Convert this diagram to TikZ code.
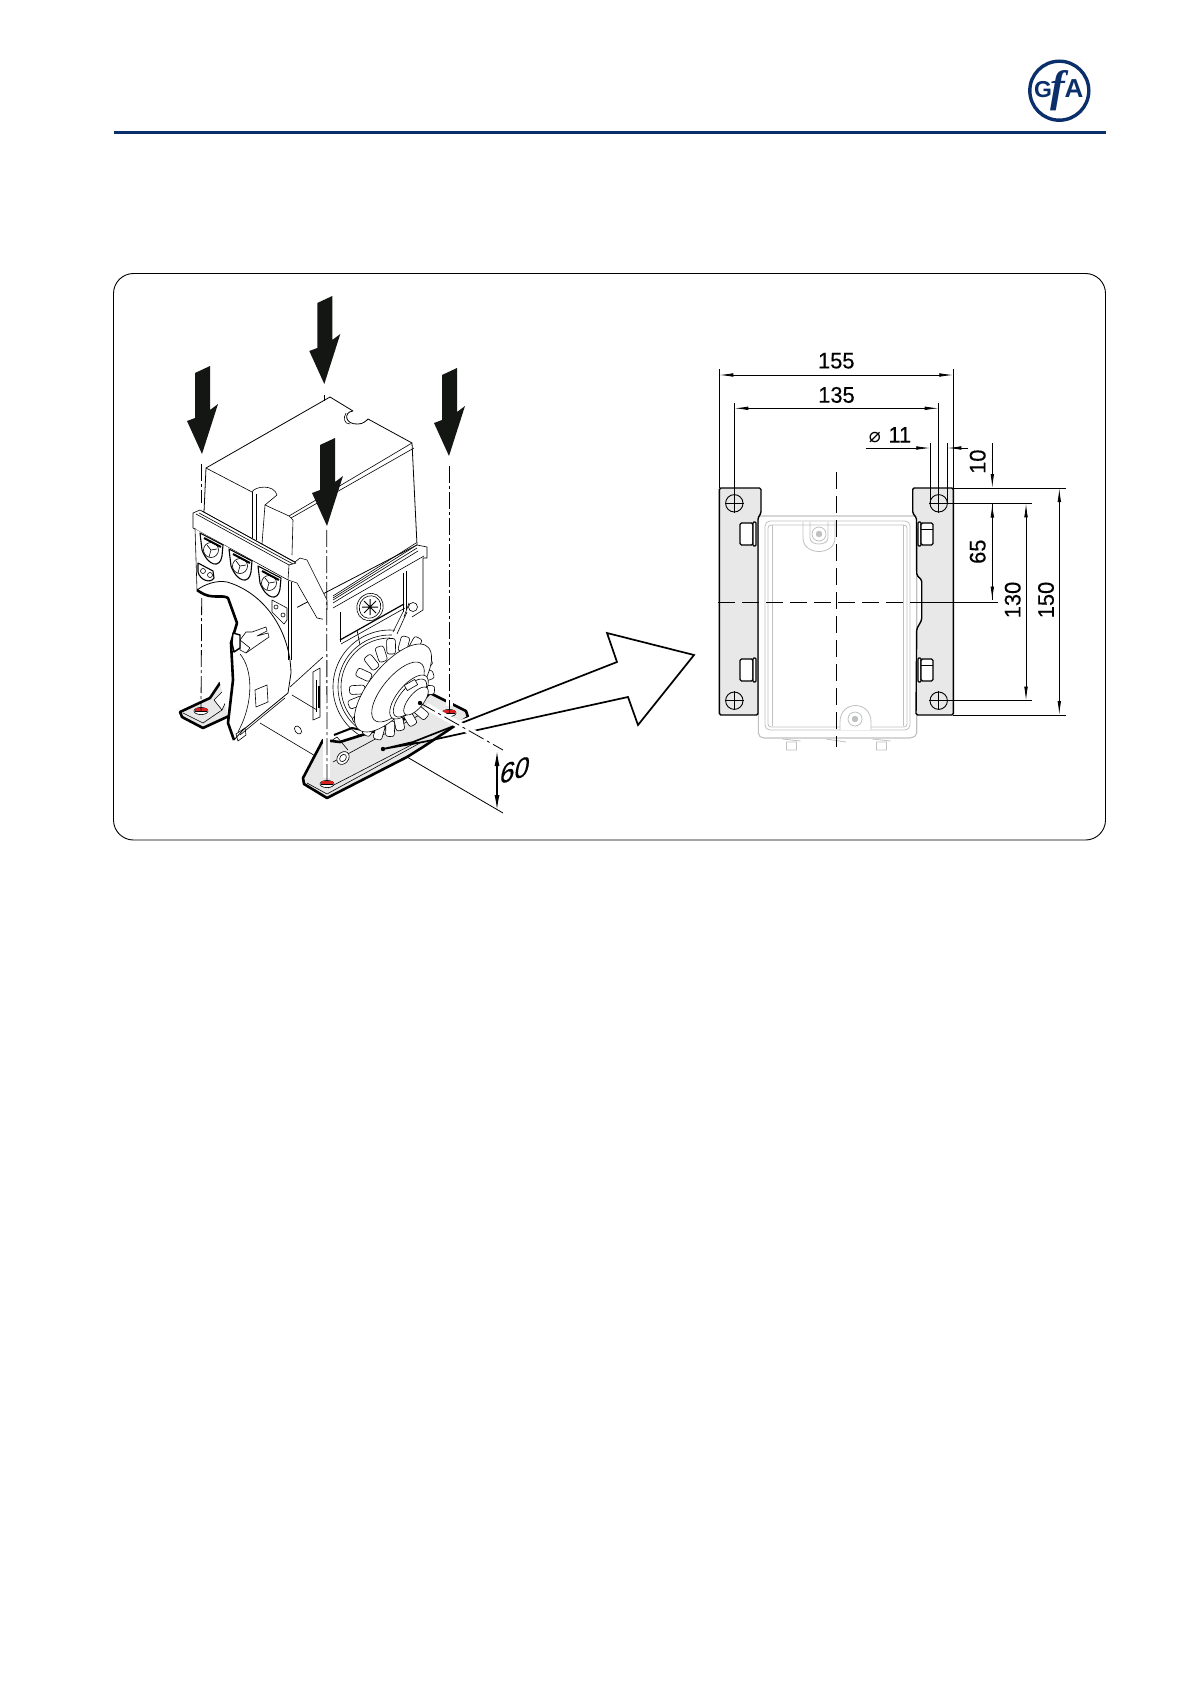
\documentclass[tikz,border=0pt]{standalone}
\usepackage{fontspec}
\setmainfont{Liberation Sans}[FakeBold=0.25,FakeStretch=0.97]
\newfontfamily\logofont{Liberation Serif}
\newfontfamily\logosans{Liberation Sans}
\newfontfamily\symfont{DejaVu Sans}
\usetikzlibrary{arrows.meta,calc,positioning,shapes.geometric}
\definecolor{navy}{HTML}{0B2F6B}
\definecolor{plategray}{HTML}{E7E8E7}
\definecolor{bodygray}{HTML}{BFC1C0}
\definecolor{boltred}{HTML}{D8201E}
\definecolor{arrowblack}{HTML}{141614}
\tikzset{%
	part/.style     = {draw, line width=0.6pt, line join=round},
	thickpart/.style= {draw, line width=2.6pt, line join=round},
	ghost/.style    = {draw=bodygray, line width=0.8pt},
	plate/.style    = {fill=plategray},
	axis/.style     = {line width=0.8pt, dash pattern=on 17pt off 3pt on 3pt off 3pt},
	casing/.style   = {draw=white, line width=7pt},
	center/.style   = {line width=0.8pt, dash pattern=on 17pt off 7pt},
	extline/.style  = {line width=0.8pt},
	dimline/.style  = {line width=0.8pt, {Latex[length=14pt,width=3.6pt]}-{Latex[length=14pt,width=3.6pt]}},
	dimdown/.style  = {line width=0.8pt, -{Latex[length=14pt,width=3.6pt]}},
	dimtext/.style  = {font=\fontsize{22.5}{22.5}\selectfont, inner sep=0pt},
	dimvert/.style  = {dimtext, rotate=90},
	pointer/.style  = {fill=arrowblack},
	hole/.style     = {line width=0.9pt, fill=plategray},
}
% part of a ring around the sprocket, #1 radius, #2 from, #3 to
\newcommand{\chainring}[3]{plot[domain=#2:#3,samples=30,smooth] ({390+#1*cos(\x)},{687-#1*sin(\x)})}
% closed ellipse on the sprocket axis, #1 cx, #2 cy, #3 factor
\newcommand{\hubring}[3]{plot[domain=0:350,samples=36,smooth cycle] ({#1+#3*(39*cos(\x)+20*sin(\x))},{#2+#3*(-14*cos(\x)-48*sin(\x))})}
\begin{document}
\begin{tikzpicture}[x=1pt,y=-1pt]
	\useasboundingbox[fill=white] (0,0) rectangle (1191,1685);

	% header
	\draw[navy,line width=3pt] (114,133) -- (1106,133);
	\node[circle,draw=navy,line width=3.4pt,minimum size=59pt,inner sep=0pt] (logo) at (1059.3,90.7) {};
	\node[navy,font=\logosans\bfseries\fontsize{23}{23}\selectfont,inner sep=0pt] (logoG) at (1043,90) {G};
	\node[navy,font=\logosans\bfseries\fontsize{26}{26}\selectfont,inner sep=0pt] (logoA) at (1074,89) {A};
	\node[navy,font=\logofont\itshape\bfseries\fontsize{44}{44}\selectfont,inner sep=0pt] (logoF) at (1058,91) {f};

	% frame
	\draw[line width=0.9pt,rounded corners=20pt] (113.5,273.5) rectangle (1105.5,840);

	% cover
	\draw[part,line width=0.8pt,fill=white] (204,512) -- (206,468) -- (330,397) -- (353,411) .. controls (343,412) and (345,425) .. (358,424) .. controls (363,424) and (366,421) .. (368,419) -- (412,443) -- (417,545) -- (292,610) -- (204,540) -- cycle;
	\draw[part] (206,468) -- (252,492) .. controls (255,486) and (274,484) .. (277,495) -- (265,505) -- (289,516) -- (412,443);
	\draw[part] (291,518) -- (414,448);
	\draw[part] (252,492) -- (252,538);
	\draw[part] (256,494) -- (256,540);
	\draw[part] (265,505) -- (262,544);
	\draw[part] (289,516) -- (293,520) -- (292,555);
	\draw[part] (346,413) .. controls (343,418) and (344,424) .. (350,424);

	% flange band and left panel
	\draw[part,fill=white] (193,513) -- (200,510) -- (295,562) -- (300,558) -- (307,560) -- (327,600) -- (327,620) -- (317,618) -- (297,583) -- (288,580) -- (193,528) -- cycle;
	\draw[part] (196,514) -- (289,565) -- (288,580);
	\draw[part] (199,513) -- (293,564);
	\draw[part] (202,511) -- (296,563);
	\draw[part] (289,565) -- (296,563);
	\fill[white] (195,529) -- (288,581) -- (297,584) -- (297,660) -- (291,673) -- (288,693) -- (234,740) -- (197,590) -- cycle;
	\draw[part] (195,528) -- (197,590);
	\draw[part] (288,581) -- (288,660) (291,582) -- (291,660);
	\foreach \gx/\gy in {200/533,229/549,258/566}{
		\draw[part,line width=1.1pt,fill=white] (\gx,\gy) -- (\gx+23,\gy+12) -- (\gx+22,\gy+23) .. controls (\gx+20,\gy+36) and (\gx+8,\gy+33) .. (\gx+2,\gy+17) -- cycle;
		\draw[part] (\gx+11,\gy+17) circle (7.5pt);
		\draw[thickpart,line width=2pt] (\gx+4,\gy+5) -- (\gx+21,\gy+14);
		\draw[part] (\gx+11,\gy+17) -- ++(-2,7) (\gx+11,\gy+17) -- ++(6,-1) (\gx+11,\gy+17) -- ++(-4,-5);
	}
	\draw[part,line width=1.1pt] (198,563) -- (213,571) -- (214,578) .. controls (210,584) and (200,580) .. (198,572) -- cycle;
	\draw[part] (203,571) circle (2.5pt) (210,575) circle (2.5pt);
	\draw[part] (272,600) -- (272,612) -- (284,624) -- (287,620) -- (287,608) -- cycle;
	\draw[part] (276,607) circle (2pt) (283,615) circle (2pt);

	% gearbox half
	\draw[part,line width=0.8pt] (197,590) .. controls (205,584) and (217,580) .. (227,582) .. controls (262,592) and (290,628) .. (291,673) -- (288,693) -- (243,730) -- (234,740);
	\draw[part] (240,654) .. controls (252,668) and (255,700) .. (238,732);
	\draw[part] (285,698) -- (240,735);
	\draw[part,fill=white] (255,690) -- (267,685) -- (268,702) -- (256,707) -- cycle;
	\draw[part,fill=white] (240,640) -- (246,632) -- (252,632) -- (266,627) -- (267,631) -- (257,636) -- (268,633) -- (269,637) -- (256,646) -- (246,653) -- (240,650) -- cycle;
	\draw[part] (240,640) -- (250,648) -- (246,653);
	\draw[part] (236,734) -- (245,728) -- (246,735) -- (238,741) -- cycle;

	% base plate and housing
	\draw[part] (260,723) -- (317,757);
	\draw[part] (292,695) -- (317,710);
	\draw[part] (290,687) -- (323,657);
	\draw[part,rotate around={-55:(298,730)}] (298,730) ellipse (4.5pt and 3pt);
	\draw[part] (313,672) -- (320,668) -- (320,717) -- (313,720) -- cycle;
	\draw[part] (316,680) -- (316,712);
	\draw[part,line width=1.2pt] (319,686) -- (319,708);

	\fill[white] (333,598) -- (417,545) -- (427,547) -- (427,558) -- (423,558) -- (423,610) -- (410,617) -- (408,630) -- (340,650) -- (333,640) -- cycle;
	\draw[part] (333,598) -- (417,545) -- (427,547) -- (427,558) -- (423,558) -- (423,610) -- (412,617);
	\draw[part] (333,596) -- (416,543) (333,600) -- (417,548) (333,603) -- (418,551);
	\draw[part] (333,608) -- (424,556);
	\draw[part] (340,612) -- (340,642);
	\draw[part] (403,573) -- (403,612) (406,571) -- (406,610);
	\draw[line width=1.2pt] (340,640) -- (404,604);
	\draw[part] (341,644) -- (405,608);
	\draw[part] (403,612) -- (393,632) (407,612) -- (397,634);
	\draw[part] (357,630) -- (360,645);
	\draw[part,fill=white,rotate around={-30:(370,607)}] (370,607) ellipse (13pt and 14pt);
	\draw[part,rotate around={-30:(370,607)}] (370,607) ellipse (10.5pt and 11.5pt);
	\draw[line width=1pt] (362,607) -- (378,607) (370,599) -- (370,615) (364,601) -- (376,613) (364,613) -- (376,601);
	\draw[part,fill=white] (413,607) circle (4.5pt);
	\draw[part] (404,617) -- (409,603);

	% right foot, the grey face and its heavy edge
	\draw[thickpart,plate] (323,740) -- (303,778) -- (304,784) -- (327,798) -- (407,757) -- (423,747) -- (468,717) -- (466,711) -- (430,693) -- (400,723) -- (340,742) -- cycle;
	\draw[part] (328,788) -- (417,742);
	\draw[part] (333,762) -- (425,712);
	\draw[part] (307,783) -- (327,794) -- (420,743);
	\draw[part,fill=white,rotate around={-40:(343,758)}] (343,758) ellipse (5.5pt and 7pt);
	\draw[part,rotate around={-40:(343,758)}] (343,758) ellipse (3pt and 4pt);
	\draw[part] (325,745) -- (337,737) -- (348,750);
	\draw[thickpart,line width=2pt] (334,735) -- (352,728) -- (362,730);

	% left foot
	\draw[thickpart,plate] (230,684) -- (220,683) -- (210,698) -- (180,712) -- (182,717) -- (203,728) -- (229,716);
	\draw[part] (183,713) -- (203,723) -- (222,710);
	\draw[part,fill=white] (214,700) -- (226,688) -- (229,695) -- (222,710) -- cycle;

	% heavy break line of the cover
	\draw[thickpart,fill=white] (197,590) -- (200,592) .. controls (212,600) and (222,594) .. (228,598) -- (237,623) -- (231,643) -- (233,680) -- (228,723) -- (234,740);
	\draw[part,line width=1.4pt,fill=white] (232,643) -- (233,633) -- (240,635) -- (240,648) -- (234,652) -- cycle;

	% chain ring behind the sprocket
	\draw[part] \chainring{49}{90}{235};
	\draw[part] \chainring{52}{88}{238};
	\draw[part] \chainring{57}{85}{240};
	% sprocket teeth and disc
	\foreach \tx/\ty in {428/662,425/651,417/641,405/640,391/642,380/650,369/659,360/673,353/690,352/704,357/720,367/732,378/736,390/733,400/727,412/722,424/715,431/690,430/675}{
		\pgfmathsetmacro\toothang{atan2(\ty-688,\tx-392)}
		\draw[part,fill=white,rounded corners=2.5pt,rotate around={-\toothang:(\tx,\ty)}] (\tx-12,\ty-4.4) rectangle (\tx+3.5,\ty+4.4);
	}
	\draw[part,fill=white] \hubring{393}{688}{0.88};
	% hub, collar, shaft
	\draw[part,fill=white] \hubring{398}{692}{0.6};
	\draw[part,fill=white] \hubring{409}{697}{0.44};
	\draw[part] \hubring{410}{698}{0.38};
	\draw[part,fill=white] \hubring{416}{701}{0.28};
	\draw[part,fill=white,rotate around={30:(411,685)}] (405,682) rectangle (417,688);
	\fill (420,703) circle (2.2pt);

	% bolts
	\foreach \bx/\by/\bname in {201/711/boltL,327/784/boltF,449/713/boltR}{
		\draw[part,fill=white] (\bx,\by) ellipse (7pt and 3.6pt);
		\fill[boltred] (\bx-6,\by-3.5) rectangle (\bx+6,\by+0.5);
		\draw[line width=1pt] (\bx-6,\by) -- (\bx+6,\by);
		\coordinate (\bname) at (\bx,\by);
	}

	% wide arrow towards the plan view
	\coordinate (wideTail) at (383,749);
	\fill[white] (458,721) -- (617,662) -- (607,633) -- (694,655) -- (638,725) -- (628,697) -- (465,732) -- cycle;
	\draw[line width=1.7pt,line join=miter] (wideTail) -- (413,742) -- (617,662) -- (607,633) -- (694,655) -- (638,725) -- (628,697) -- (423,742) -- (wideTail);
	\fill (wideTail) circle (2.2pt);

	% mounting axes
	\coordinate (axisTop) at (324.3,395);
	\coordinate (axisTopEnd) at (324.3,401);
	\coordinate (axisL) at (201.7,464);
	\coordinate (axisLmid) at (201.7,503);
	\coordinate (axisLlow) at (201.7,598);
	\coordinate (axisF) at (326.7,530);
	\coordinate (axisR) at (449,466);
	\draw[casing] (326.7,610) -- (326.7,778);
	\draw[casing] (449,620) -- (449,706);
	\draw[casing] (426,706) -- (503,750);
	\draw[axis] (axisTop) -- (axisTopEnd);
	\draw[axis] (axisL) -- (axisLmid);
	\draw[axis] (axisLlow) -- (boltL);
	\draw[axis] (axisF) -- (boltF);
	\draw[axis] (axisR) -- (boltR);

	% height of the shaft
	\coordinate (shaftEnd) at (420,703);
	\coordinate (shaftDim) at (503,750);
	\coordinate (footEdge) at (407,757);
	\coordinate (footDim) at (503,813);
	\draw[axis,dash pattern=on 17pt off 4pt on 3pt off 4pt] (shaftEnd) -- (shaftDim);
	\draw[extline] (footEdge) -- (footDim);
	\draw[line width=1.2pt,{Latex[length=15pt,width=5pt]}-{Latex[length=15pt,width=5pt]}] (497,751) -- (497,810);
	\node[dimtext,font=\fontsize{27}{27}\selectfont,yslant=0.32,xslant=0.2,transform shape] (dimSixty) at (515,770) {60};

	% black drop arrows
	\foreach \tipx/\tipy in {324.3/384,202/454,327/526,449/456}{
		\fill[pointer] (\tipx,\tipy) -- (\tipx-15,\tipy-33) -- (\tipx-7,\tipy-36) -- (\tipx-7,\tipy-81) -- (\tipx+8,\tipy-88) -- (\tipx+8,\tipy-44) -- (\tipx+16,\tipy-50) -- cycle;
	}

	% plan view, body
	\draw[ghost,line width=1.1pt,rounded corners=2pt] (758.3,516) -- (758.3,735) -- (762,738) -- (912,738) -- (916.7,735) -- (916.7,516) -- cycle;
	\draw[ghost,rounded corners=5pt] (765,521) rectangle (910,730);
	\draw[ghost,rounded corners=3pt] (768,525) rectangle (907,727);
	\draw[ghost] (772,525) -- (772,726) (903,525) -- (903,726);
	% plan view, plates
	\draw[line width=1.4pt,plate,rounded corners=1.5pt] (758,715) -- (719.3,715) -- (719.3,488) -- (761,488) -- (761,513) -- (758,518) -- cycle;
	\draw[line width=1.4pt,plate,rounded corners=1.5pt] (916.5,518) -- (912.7,513) -- (912.7,488) -- (953.3,488) -- (953.3,715) -- (916,715) -- (916.7,629) -- (921.7,620) -- (921.7,580) -- (916.7,575) -- cycle;
	% screws, top and bottom of the cover
	\draw[ghost] (803,522) -- (803,538) .. controls (803,556) and (835,556) .. (835,538) -- (835,522);
	\draw[ghost] (810,522) -- (810,538) .. controls (810,546) and (828,546) .. (828,538) -- (828,522);
	\node[circle,draw=bodygray,line width=0.8pt,minimum size=14pt,inner sep=0pt] (screwTop) at (819,534) {};
	\node[circle,draw=bodygray,fill=bodygray,minimum size=6pt,inner sep=0pt] (screwTopCore) at (819,534) {};
	\draw[ghost,fill=white] (840,730) -- (840,722) .. controls (840,700) and (871,700) .. (871,722) -- (871,730);
	\node[circle,draw=bodygray,line width=0.8pt,minimum size=14pt,inner sep=0pt] (screwLow) at (855,719) {};
	\node[circle,draw=bodygray,fill=bodygray,minimum size=6pt,inner sep=0pt] (screwLowCore) at (855,719) {};
	% screws under the body
	\foreach \sx in {791.5,881.5}{
		\draw[ghost] (\sx-9,739) -- (\sx+9,741) (\sx-5,742) rectangle (\sx+5,750);
	}
	\draw[ghost] (826,739) -- (846,742);
	% lugs on the plates
	\foreach \lx/\ly in {740/523,740/659}{
		\draw[line width=1.1pt,fill=white,rounded corners=1.5pt] (\lx,\ly) rectangle (\lx+13,\ly+22);
		\draw[line width=1.1pt,fill=white,rounded corners=1pt] (\lx+13,\ly-1) rectangle (\lx+16,\ly+23);
	}
	\foreach \lx/\ly in {918/523,918/659}{
		\draw[line width=1.1pt,fill=white,rounded corners=1pt] (\lx,\ly-1) rectangle (\lx+3,\ly+23);
		\draw[line width=1.1pt,fill=white,rounded corners=1.5pt] (\lx+3,\ly) rectangle (\lx+15,\ly+22);
		\draw[extline] (\lx+3,\ly+6) -- (\lx+15,\ly+6);
	}
	% plan view, holes
	\foreach \hname/\hx/\hy in {holeTL/734.3/503.3,holeTR/938.7/503.3,holeBL/734.3/700.7,holeBR/938.7/700.7}{
		\node[circle,draw,hole,minimum size=17.4pt,inner sep=0pt] (\hname) at (\hx,\hy) {};
		\draw[extline] (\hx-9.5,\hy) -- (\hx+9.5,\hy) (\hx,\hy-9.5) -- (\hx,\hy+9.5);
	}

	% center lines
	\coordinate (midTop) at (836,472);
	\coordinate (midLow) at (836,747);
	\coordinate (midL) at (718,602);
	\coordinate (midR) at (921,602);
	\coordinate (midDim) at (998,602);
	\draw[center] (midTop) -- (midLow);
	\draw[center] (midL) -- (midR);
	\draw[extline] (midR) -- (midDim);

	% widths
	\coordinate (plateTL) at (719.3,488);
	\coordinate (plateTR) at (953.3,488);
	\coordinate (plateBR) at (953.3,715);
	\draw[extline] (plateTL) -- ++(0,-119) coordinate (wideL);
	\draw[extline] (plateTR) -- ++(0,-119) coordinate (wideR);
	\draw[dimline] ($(wideL)+(0,6)$) -- node[above=6pt,dimtext] (dimOuter) {155} ($(wideR)+(0,6)$);
	\draw[extline] (holeTL.center) -- ++(0,-100) coordinate (pitchL);
	\draw[extline] (holeTR.center) -- ++(0,-100) coordinate (pitchR);
	\draw[dimline] ($(pitchL)+(0,5)$) -- node[above=5pt,dimtext] (dimPitch) {135} ($(pitchR)+(0,5)$);
	% hole diameter
	\draw[extline] (930.3,503) -- (930.3,443);
	\draw[extline] (947.3,503) -- (947.3,443);
	\draw[dimdown] (866,448) -- (930.3,448);
	\draw[dimdown] (967.7,448) -- (947.3,448);
	\node[dimtext] (dimBore) at (890,435) {{\symfont\fontsize{20}{20}\selectfont ⌀}\,\,11};
	% heights
	\draw[extline] (plateTR) -- (1065.7,488);
	\draw[extline] (plateBR) -- (1065.7,715);
	\draw[extline] (holeTR.west) -- (1031.7,503.3);
	\draw[extline] (holeBR.west) -- (1031.7,700.7);
	\draw[dimdown] (992.3,443) -- (992.3,488);
	\draw[dimdown] (992.3,600) -- (992.3,503.5);
	\draw[dimdown] (992.3,503.5) -- (992.3,600.5);
	\draw[dimline] (1026,503.3) -- (1026,700.7);
	\draw[dimline] (1059.3,488) -- (1059.3,715);
	\node[dimvert] (dimTen) at (977.7,461.7) {10};
	\node[dimvert] (dimHalf) at (977.7,551.7) {65};
	\node[dimvert] (dimHoles) at (1012.7,600) {130};
	\node[dimvert] (dimPlate) at (1046,600) {150};
\end{tikzpicture}
\end{document}
